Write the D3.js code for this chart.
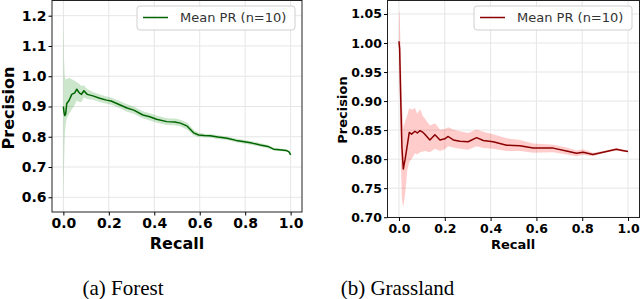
<!DOCTYPE html>
<meta charset="utf-8">
<style>
    body { margin: 0; background: #fff; }
    .tick text { font-family: "DejaVu Sans", sans-serif; font-weight: bold; fill: #000; }
    .label { font-family: "DejaVu Sans", sans-serif; font-weight: bold; fill: #000; }
    .legend text { font-family: "DejaVu Sans", sans-serif; fill: #333; }
    .caption { font-family: "Liberation Serif", serif; fill: #000; }
</style>
<svg width="640" height="299"></svg>
<script src="https://d3js.org/d3.v7.min.js"></script>
<script>

    // (a) Forest
    var forestRecall = [0.000, 0.003, 0.006, 0.010, 0.015, 0.025, 0.037, 0.050, 0.059, 0.070, 0.080, 0.090, 0.105, 0.130, 0.160, 0.190, 0.210, 0.250, 0.280, 0.310, 0.350, 0.380, 0.410, 0.455, 0.490, 0.515, 0.545, 0.573, 0.595, 0.620, 0.646, 0.680, 0.720, 0.760, 0.790, 0.830, 0.866, 0.900, 0.925, 0.950, 0.980, 0.993, 1.000];
    var forestMean = [0.900, 0.880, 0.870, 0.875, 0.910, 0.920, 0.940, 0.945, 0.957, 0.945, 0.940, 0.952, 0.940, 0.935, 0.927, 0.921, 0.918, 0.905, 0.895, 0.888, 0.872, 0.866, 0.858, 0.850, 0.849, 0.845, 0.835, 0.813, 0.806, 0.804, 0.803, 0.799, 0.795, 0.788, 0.784, 0.779, 0.773, 0.768, 0.759, 0.757, 0.755, 0.750, 0.740];
    var forestLow = [0.58, 0.70, 0.80, 0.84, 0.86, 0.875, 0.89, 0.905, 0.92, 0.915, 0.915, 0.93, 0.925, 0.922, 0.915, 0.909, 0.906, 0.893, 0.883, 0.876, 0.860, 0.854, 0.846, 0.839, 0.838, 0.834, 0.824, 0.804, 0.799, 0.798, 0.797, 0.793, 0.789, 0.782, 0.778, 0.773, 0.767, 0.762, 0.755, 0.753, 0.751, 0.746, 0.737];
    var forestHigh = [1.22, 1.06, 1.00, 0.99, 0.99, 0.995, 0.99, 0.985, 0.98, 0.975, 0.968, 0.97, 0.958, 0.948, 0.940, 0.933, 0.930, 0.917, 0.907, 0.900, 0.884, 0.878, 0.870, 0.861, 0.860, 0.856, 0.846, 0.823, 0.813, 0.810, 0.809, 0.805, 0.801, 0.794, 0.790, 0.785, 0.779, 0.773, 0.764, 0.761, 0.759, 0.754, 0.743];
    var forestYTicks = [0.6, 0.7, 0.8, 0.9, 1.0, 1.1, 1.2];

    // (b) Grassland
    var grassRecall = [0.000, 0.003, 0.008, 0.013, 0.019, 0.027, 0.036, 0.045, 0.055, 0.070, 0.080, 0.092, 0.105, 0.113, 0.135, 0.157, 0.179, 0.200, 0.215, 0.237, 0.266, 0.302, 0.339, 0.368, 0.411, 0.470, 0.528, 0.586, 0.673, 0.731, 0.775, 0.804, 0.847, 0.891, 0.949, 0.975, 1.000];
    var grassMean = [1.003, 0.990, 0.900, 0.820, 0.783, 0.800, 0.823, 0.846, 0.843, 0.848, 0.845, 0.849, 0.846, 0.843, 0.833, 0.842, 0.833, 0.835, 0.839, 0.833, 0.831, 0.830, 0.837, 0.832, 0.830, 0.824, 0.823, 0.819, 0.819, 0.814, 0.810, 0.812, 0.808, 0.812, 0.817, 0.815, 0.813];
    var grassLow = [0.995, 0.93, 0.80, 0.73, 0.717, 0.74, 0.78, 0.795, 0.80, 0.81, 0.808, 0.812, 0.813, 0.814, 0.812, 0.818, 0.814, 0.817, 0.822, 0.820, 0.818, 0.816, 0.822, 0.819, 0.818, 0.814, 0.814, 0.811, 0.812, 0.808, 0.805, 0.807, 0.805, 0.810, 0.815, 0.813, 0.812];
    var grassHigh = [1.057, 1.05, 0.98, 0.90, 0.855, 0.865, 0.875, 0.888, 0.885, 0.888, 0.878, 0.886, 0.874, 0.870, 0.858, 0.862, 0.851, 0.852, 0.855, 0.851, 0.848, 0.845, 0.851, 0.847, 0.843, 0.836, 0.833, 0.827, 0.825, 0.820, 0.815, 0.817, 0.811, 0.814, 0.819, 0.817, 0.814];
    var grassYTicks = [0.70, 0.75, 0.80, 0.85, 0.90, 0.95, 1.00, 1.05];

    var xTicks = [0, 0.2, 0.4, 0.6, 0.8, 1.0];
    var legendLabel = "Mean PR (n=10)";

    var svg = d3.select("svg");

    function panel(cfg) {
        var g = svg.append("g");
        var x = d3.scaleLinear().domain([-0.05, 1.05]).range([cfg.left, cfg.right]);
        var y = d3.scaleLinear().domain(cfg.yDomain).range([cfg.bottom, cfg.top]);

        // grid
        g.selectAll(".gx").data(xTicks).enter().append("line")
            .attr("x1", function (d) { return x(d); }).attr("x2", function (d) { return x(d); })
            .attr("y1", cfg.top).attr("y2", cfg.bottom)
            .attr("stroke", "#e6e6e6").attr("stroke-width", 1);
        g.selectAll(".gy").data(cfg.yTicks).enter().append("line")
            .attr("y1", function (d) { return y(d); }).attr("y2", function (d) { return y(d); })
            .attr("x1", cfg.left).attr("x2", cfg.right)
            .attr("stroke", "#e6e6e6").attr("stroke-width", 1);

        var pts = cfg.recall.map(function (r, i) {
            return {r: r, m: cfg.mean[i], lo: cfg.low[i], hi: cfg.high[i]};
        });

        var area = d3.area()
            .x(function (d) { return x(d.r); })
            .y0(function (d) { return y(d.lo); })
            .y1(function (d) { return y(d.hi); });
        g.append("path").datum(pts).attr("d", area)
            .attr("fill", cfg.fill).attr("fill-opacity", 0.2);

        var line = d3.line()
            .x(function (d) { return x(d.r); })
            .y(function (d) { return y(d.m); });
        g.append("path").datum(pts).attr("d", line)
            .attr("fill", "none").attr("stroke", cfg.color).attr("stroke-width", 1.5)
            .attr("stroke-linejoin", "round");

        // frame
        g.append("rect")
            .attr("x", cfg.left).attr("y", cfg.top)
            .attr("width", cfg.right - cfg.left).attr("height", cfg.bottom - cfg.top)
            .attr("fill", "none").attr("stroke", "#222").attr("stroke-width", 1);

        // axes
        var xAxis = d3.axisBottom(x).tickValues(xTicks).tickFormat(d3.format(".1f"))
            .tickSize(3.5).tickPadding(cfg.xPad);
        g.append("g").attr("transform", "translate(0," + cfg.bottom + ")").call(xAxis)
            .call(function (s) { s.select(".domain").remove(); })
            .selectAll("text").style("font-size", cfg.xTickSize + "px");

        var yAxis = d3.axisLeft(y).tickValues(cfg.yTicks).tickFormat(d3.format(cfg.yFormat))
            .tickSize(3.5).tickPadding(2);
        g.append("g").attr("transform", "translate(" + cfg.left + ",0)").call(yAxis)
            .call(function (s) { s.select(".domain").remove(); })
            .selectAll("text").style("font-size", cfg.yTickSize + "px");

        g.append("text").attr("class", "label")
            .attr("x", (cfg.xLabelX)).attr("y", cfg.xLabelY)
            .attr("text-anchor", "middle").style("font-size", cfg.labelSize.x + "px")
            .text("Recall");
        g.append("text").attr("class", "label")
            .attr("transform", "translate(" + cfg.yLabelX + "," + cfg.yLabelY + ") rotate(-90)")
            .attr("text-anchor", "middle").style("font-size", cfg.labelSize.y + "px")
            .text("Precision");

        // legend
        var lg = g.append("g").attr("class", "legend");
        lg.append("rect").attr("x", cfg.legX).attr("y", 6).attr("width", 158).attr("height", 24)
            .attr("rx", 3).attr("fill", "#fff").attr("fill-opacity", 0.85)
            .attr("stroke", "#d0d0d0").attr("stroke-width", 1);
        lg.append("line").attr("x1", cfg.legX + 6).attr("x2", cfg.legX + 31)
            .attr("y1", 17.5).attr("y2", 17.5)
            .attr("stroke", cfg.color).attr("stroke-width", 1.5);
        lg.append("text").attr("x", cfg.legX + 43).attr("y", 22)
            .style("font-size", "13px").text(legendLabel);

        svg.append("text").attr("class", "caption")
            .attr("x", cfg.capX).attr("y", 294.5).attr("text-anchor", "middle")
            .style("font-size", "21px").text(cfg.caption);
    }

    panel({
        left: 52, right: 302, top: 0.5, bottom: 212,
        yDomain: [0.5514, 1.2502], yTicks: forestYTicks, yFormat: ".1f",
        recall: forestRecall, mean: forestMean, low: forestLow, high: forestHigh,
        color: "#006400", fill: "green",
        xTickSize: 14, yTickSize: 14, xPad: 3,
        labelSize: {x: 16, y: 16},
        xLabelX: 177, xLabelY: 249, yLabelX: 14, yLabelY: 108,
        legX: 137, capX: 123, caption: "(a) Forest"
    });

    panel({
        left: 387.5, right: 639.5, top: 0.5, bottom: 217.5,
        yDomain: [0.6995, 1.0732], yTicks: grassYTicks, yFormat: ".2f",
        recall: grassRecall, mean: grassMean, low: grassLow, high: grassHigh,
        color: "#8b0000", fill: "red",
        xTickSize: 12.5, yTickSize: 12.5, xPad: 3,
        labelSize: {x: 13, y: 13},
        xLabelX: 513, xLabelY: 249, yLabelX: 346.5, yLabelY: 110,
        legX: 474, capX: 397.5, caption: "(b) Grassland"
    });

</script>
